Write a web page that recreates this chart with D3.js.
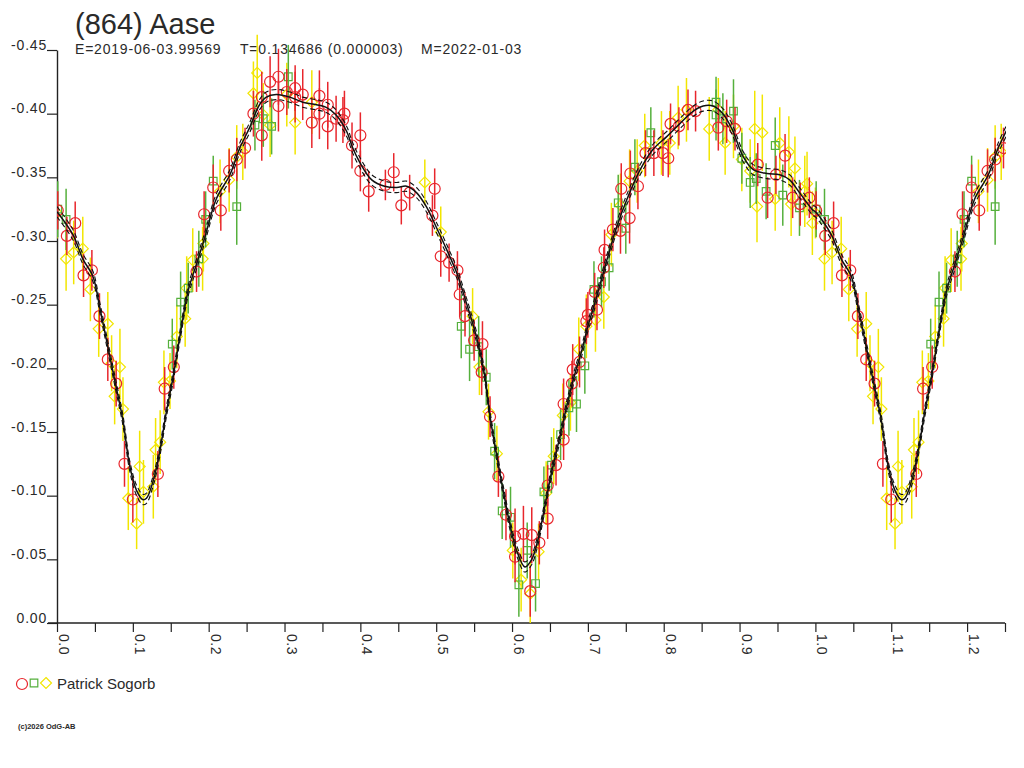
<!DOCTYPE html>
<html>
<head>
<meta charset="utf-8">
<script src="https://cdn.jsdelivr.net/npm/d3@7"></script>
<style>
  body { margin: 0; background: #fff; }
  svg { display: block; }
  text { font-family: "Liberation Sans", Arial, sans-serif; fill: #2a2a2a; }
</style>
</head>
<body>
<div id="chart"></div>
<script>
// Lightcurve of (864) Aase, folded on the period
const title = '(864) Aase';
const subtitle = ['E=2019-06-03.99569', 'T=0.134686 (0.000003)', 'M=2022-01-03'];
const observer = 'Patrick Sogorb';
const copyright = '(c)2026 OdG-AB';

// [phase, relative mag, error]
const redPts = [
  [0.001,-0.324,0.015],[0.013,-0.304,0.015],[0.024,-0.314,0.017],[0.035,-0.273,0.017],
  [0.046,-0.277,0.016],[0.056,-0.241,0.018],[0.067,-0.207,0.017],[0.078,-0.188,0.018],
  [0.089,-0.125,0.018],[0.100,-0.097,0.018],[0.133,-0.117,0.018],[0.142,-0.184,0.017],
  [0.154,-0.201,0.017],[0.184,-0.276,0.016],[0.194,-0.321,0.018],[0.206,-0.342,0.018],
  [0.216,-0.324,0.016],[0.227,-0.355,0.017],[0.237,-0.364,0.017],[0.248,-0.373,0.016],
  [0.259,-0.400,0.018],[0.270,-0.413,0.020],[0.270,-0.383,0.020],[0.281,-0.425,0.020],
  [0.292,-0.429,0.022],[0.292,-0.406,0.020],[0.303,-0.417,0.018],[0.314,-0.420,0.018],
  [0.314,-0.413,0.020],[0.324,-0.415,0.020],[0.336,-0.393,0.020],[0.346,-0.414,0.020],
  [0.346,-0.400,0.020],[0.357,-0.407,0.018],[0.357,-0.390,0.018],[0.368,-0.396,0.018],
  [0.377,-0.395,0.018],[0.379,-0.400,0.018],[0.389,-0.375,0.018],[0.400,-0.383,0.018],
  [0.400,-0.355,0.016],[0.411,-0.339,0.016],[0.433,-0.344,0.012],[0.444,-0.354,0.015],
  [0.454,-0.328,0.015],[0.465,-0.338,0.014],[0.495,-0.320,0.016],[0.498,-0.341,0.016],
  [0.506,-0.288,0.016],[0.517,-0.283,0.015],[0.528,-0.277,0.015],[0.531,-0.258,0.017],
  [0.538,-0.241,0.016],[0.550,-0.222,0.016],[0.561,-0.219,0.018],[0.560,-0.197,0.018],
  [0.571,-0.162,0.016],[0.582,-0.115,0.016],[0.592,-0.085,0.020],[0.604,-0.068,0.022],
  [0.604,-0.052,0.020],[0.615,-0.070,0.022],[0.626,-0.069,0.022],[0.624,-0.025,0.020],
  [0.636,-0.063,0.017],[0.647,-0.082,0.016],[0.647,-0.108,0.016],[0.658,-0.124,0.016],
  [0.668,-0.144,0.016],[0.668,-0.172,0.020],[0.679,-0.188,0.018],[0.680,-0.199,0.020],
  [0.689,-0.205,0.020],[0.698,-0.237,0.018],[0.700,-0.242,0.018],[0.709,-0.260,0.015],
  [0.712,-0.246,0.016],[0.721,-0.279,0.016],[0.722,-0.293,0.016],[0.733,-0.309,0.017],
  [0.743,-0.308,0.018],[0.744,-0.341,0.020],[0.755,-0.318,0.020],[0.756,-0.353,0.018],
  [0.766,-0.343,0.018],[0.776,-0.369,0.018],[0.787,-0.369,0.018],[0.799,-0.369,0.018],
  [0.806,-0.365,0.015],[0.809,-0.392,0.016],[0.820,-0.390,0.015],[0.832,-0.403,0.016],
  [0.842,-0.402,0.016],[0.872,-0.389,0.018],[0.883,-0.394,0.017],[0.894,-0.388,0.017],
  [0.924,-0.360,0.017],[0.937,-0.334,0.016],[0.948,-0.352,0.015],[0.960,-0.367,0.017],
  [0.970,-0.334,0.016],[0.980,-0.329,0.017],[0.992,-0.334,0.016]
];

const greenPts = [
  [0.001,-0.325,0.022],[0.012,-0.317,0.024],[0.152,-0.219,0.020],[0.163,-0.252,0.024],
  [0.173,-0.263,0.020],[0.187,-0.286,0.022],[0.196,-0.317,0.022],[0.206,-0.347,0.020],
  [0.237,-0.327,0.030],[0.261,-0.391,0.020],[0.272,-0.396,0.022],[0.283,-0.390,0.022],
  [0.305,-0.429,0.025],[0.533,-0.233,0.025],[0.544,-0.215,0.025],[0.556,-0.217,0.024],
  [0.566,-0.193,0.022],[0.577,-0.135,0.022],[0.587,-0.088,0.022],[0.598,-0.083,0.024],
  [0.609,-0.030,0.025],[0.620,-0.057,0.022],[0.631,-0.031,0.022],[0.642,-0.103,0.020],
  [0.652,-0.124,0.022],[0.664,-0.148,0.020],[0.675,-0.169,0.022],[0.685,-0.172,0.022],
  [0.696,-0.202,0.022],[0.708,-0.262,0.022],[0.718,-0.268,0.020],[0.728,-0.279,0.018],
  [0.740,-0.330,0.022],[0.750,-0.310,0.020],[0.762,-0.358,0.022],[0.783,-0.385,0.020],
  [0.869,-0.409,0.020],[0.869,-0.399,0.020],[0.878,-0.396,0.020],[0.892,-0.402,0.025],
  [0.903,-0.365,0.020],[0.914,-0.346,0.020],[0.922,-0.349,0.020],[0.935,-0.339,0.022],
  [0.947,-0.375,0.022],[0.957,-0.336,0.024],[0.979,-0.326,0.022]
];

const yellowPts = [
  [0.000,-0.322,0.020],[0.012,-0.286,0.025],[0.022,-0.291,0.025],[0.034,-0.294,0.025],
  [0.044,-0.262,0.025],[0.055,-0.231,0.022],[0.067,-0.235,0.025],[0.072,-0.204,0.022],
  [0.076,-0.178,0.022],[0.083,-0.201,0.030],[0.087,-0.168,0.025],[0.094,-0.098,0.025],
  [0.105,-0.078,0.020],[0.109,-0.123,0.028],[0.114,-0.103,0.025],[0.127,-0.107,0.025],
  [0.130,-0.136,0.025],[0.136,-0.142,0.025],[0.141,-0.189,0.025],[0.149,-0.190,0.022],
  [0.158,-0.225,0.025],[0.169,-0.239,0.022],[0.171,-0.263,0.025],[0.179,-0.285,0.025],
  [0.192,-0.286,0.025],[0.193,-0.298,0.022],[0.215,-0.339,0.025],[0.227,-0.348,0.025],
  [0.237,-0.366,0.025],[0.245,-0.370,0.022],[0.259,-0.416,0.025],[0.264,-0.432,0.030],
  [0.272,-0.399,0.025],[0.281,-0.391,0.025],[0.303,-0.415,0.025],[0.314,-0.393,0.025],
  [0.336,-0.409,0.025],[0.485,-0.346,0.018],[0.506,-0.307,0.020],[0.548,-0.241,0.022],
  [0.557,-0.201,0.022],[0.569,-0.166,0.022],[0.580,-0.133,0.022],[0.601,-0.057,0.022],
  [0.612,-0.034,0.025],[0.624,-0.023,0.025],[0.635,-0.056,0.022],[0.645,-0.102,0.025],
  [0.655,-0.131,0.022],[0.667,-0.163,0.025],[0.677,-0.173,0.022],[0.688,-0.215,0.025],
  [0.698,-0.233,0.025],[0.710,-0.238,0.025],[0.721,-0.256,0.025],[0.731,-0.305,0.025],
  [0.743,-0.328,0.025],[0.755,-0.347,0.025],[0.765,-0.355,0.025],[0.775,-0.375,0.025],
  [0.797,-0.377,0.025],[0.808,-0.377,0.025],[0.819,-0.397,0.025],[0.830,-0.403,0.025],
  [0.860,-0.388,0.025],[0.872,-0.403,0.025],[0.881,-0.377,0.025],[0.892,-0.390,0.025],
  [0.903,-0.364,0.025],[0.914,-0.355,0.025],[0.920,-0.388,0.030],[0.923,-0.327,0.028],
  [0.930,-0.385,0.030],[0.947,-0.333,0.025],[0.953,-0.377,0.028],[0.965,-0.370,0.028],
  [0.968,-0.329,0.025],[0.973,-0.357,0.025],[0.986,-0.339,0.028],[0.989,-0.345,0.025],
  [0.996,-0.314,0.025]
];

// Fourier fit as drawn, read at these phases
const curvePhase = [0.000,0.021,0.034,0.0475,0.056,0.065,0.076,0.087,0.096,0.105,0.113,0.118,
  0.127,0.135,0.144,0.153,0.162,0.173,0.184,0.195,0.210,0.228,0.241,0.254,0.267,0.276,0.289,
  0.307,0.324,0.342,0.355,0.368,0.382,0.390,0.399,0.415,0.432,0.448,0.461,0.474,0.487,0.500,
  0.514,0.527,0.540,0.553,0.564,0.571,0.580,0.588,0.597,0.606,0.617,0.626,0.634,0.643,0.652,
  0.663,0.674,0.683,0.692,0.700,0.711,0.725,0.738,0.751,0.769,0.786,0.804,0.821,0.839,0.852,
  0.865,0.878,0.890,0.905,0.918,0.936,0.953,0.966,0.979,0.997];
const curveMag = [-0.323,-0.305,-0.286,-0.272,-0.249,-0.223,-0.191,-0.159,-0.123,-0.104,-0.097,-0.098,
  -0.112,-0.133,-0.165,-0.193,-0.225,-0.261,-0.282,-0.303,-0.333,-0.352,-0.373,-0.389,-0.407,-0.413,-0.415,
  -0.413,-0.409,-0.407,-0.405,-0.399,-0.386,-0.373,-0.362,-0.348,-0.343,-0.342,-0.343,-0.338,-0.327,-0.311,
  -0.293,-0.275,-0.251,-0.225,-0.194,-0.162,-0.131,-0.105,-0.078,-0.057,-0.044,-0.050,-0.065,-0.091,-0.118,
  -0.146,-0.175,-0.196,-0.214,-0.233,-0.255,-0.285,-0.311,-0.332,-0.356,-0.372,-0.382,-0.392,-0.402,-0.406,
  -0.406,-0.400,-0.388,-0.366,-0.356,-0.353,-0.352,-0.348,-0.338,-0.324];
const envelope = 0.004;   // half-width of the dashed band

const yTickVals = [0, -0.05, -0.10, -0.15, -0.20, -0.25, -0.30, -0.35, -0.40, -0.45];
const xTickLabels = ['0.0','0.1','0.2','0.3','0.4','0.5','0.6','0.7','0.8','0.9','1.0','1.1','1.2'];

const colors = { red: '#e8262c', green: '#55b03c', yellow: '#f2e600' };

const W = 1024, H = 768;
const svg = d3.select('#chart').append('svg').attr('width', W).attr('height', H);
svg.append('rect').attr('width', W).attr('height', H).attr('fill', '#fff');

const x = d3.scaleLinear().domain([0, 1.25]).range([57, 1005]);
const y = d3.scaleLinear().domain([0, -0.45]).range([623, 50]);

// phases below 0.25 are repeated past 1.0
function fold(pts) {
  return pts.concat(pts.filter(d => d[0] <= 0.25).map(d => [d[0] + 1, d[1], d[2]]));
}

// title block
svg.append('text').attr('x', 75).attr('y', 34).attr('font-size', 29).text(title);
const subX = [75, 240, 421];
subtitle.forEach((s, i) => {
  svg.append('text').attr('x', subX[i]).attr('y', 54).attr('font-size', 14)
    .attr('letter-spacing', 0.8).text(s);
});

// y axis
const yAxis = svg.append('g').attr('transform', `translate(${x(0)},0)`)
  .call(d3.axisLeft(y).tickValues(yTickVals).tickSize(10).tickSizeOuter(0)
    .tickFormat(d => d.toFixed(2)));
yAxis.select('.domain').attr('stroke', '#222').attr('stroke-width', 1.4);
yAxis.selectAll('.tick line').attr('stroke', '#222').attr('stroke-width', 1.2);
yAxis.selectAll('.tick text')
  .attr('x', -10).attr('dy', -1)
  .attr('font-size', 14).attr('fill', '#2a2a2a').attr('letter-spacing', 0.8)
  .style('font-family', '"Liberation Sans", Arial, sans-serif');

// x axis
const xMinor = d3.range(0, 1.2501, 0.05);
const xAxis = svg.append('g').attr('transform', `translate(0,${y(0)})`)
  .call(d3.axisBottom(x).tickValues(xMinor).tickSize(9).tickSizeOuter(0).tickFormat(''));
xAxis.select('.domain').remove();
xAxis.selectAll('.tick line').attr('stroke', '#222').attr('stroke-width', 1.2);
svg.append('line')
  .attr('x1', x(0) - 9).attr('x2', x(1.25))
  .attr('y1', y(0)).attr('y2', y(0))
  .attr('stroke', '#222').attr('stroke-width', 1.4);
svg.append('g').selectAll('text').data(xTickLabels).join('text')
  .attr('transform', d => `translate(${x(+d) + 2},${y(0) + 11}) rotate(90)`)
  .attr('font-size', 14).attr('letter-spacing', 0.5)
  .text(d => d);

// clip to plot area
svg.append('clipPath').attr('id', 'plot')
  .append('rect').attr('x', x(0)).attr('y', y(-0.45) - 20)
  .attr('width', x(1.25) - x(0) + 1).attr('height', y(0) - y(-0.45) + 20);

const plot = svg.append('g').attr('clip-path', 'url(#plot)');

function drawSeries(pts, color, shape) {
  const data = fold(pts);
  const g = plot.append('g');
  g.selectAll('line').data(data).join('line')
    .attr('x1', d => x(d[0])).attr('x2', d => x(d[0]))
    .attr('y1', d => y(d[1] - d[2])).attr('y2', d => y(d[1] + d[2]))
    .attr('stroke', color).attr('stroke-width', 1.5);
  g.selectAll('path').data(data).join('path')
    .attr('d', d => shape(x(d[0]), y(d[1])))
    .attr('fill', 'none').attr('stroke', color).attr('stroke-width', 1.2);
}

const circle = (cx, cy) => `M${cx - 5.5},${cy}a5.5,5.5 0 1,0 11,0a5.5,5.5 0 1,0 -11,0`;
const square = (cx, cy) => `M${cx - 3.8},${cy - 3.8}h7.6v7.6h-7.6z`;
const diamond = (cx, cy) => `M${cx},${cy - 5.5}L${cx + 5.5},${cy}L${cx},${cy + 5.5}L${cx - 5.5},${cy}z`;

drawSeries(yellowPts, colors.yellow, diamond);
drawSeries(greenPts, colors.green, square);
drawSeries(redPts, colors.red, circle);

// fitted curve and dashed band
const curvePts = curvePhase.map((p, i) => [p, curveMag[i]]);
const curveAll = curvePts.concat(curvePts.filter(d => d[0] <= 0.26).map(d => [d[0] + 1, d[1]]));
const line = d3.line().x(d => x(d[0])).y(d => y(d[1])).curve(d3.curveCatmullRom);
[-envelope, envelope].forEach(off => {
  plot.append('path')
    .attr('d', line(curveAll.map(d => [d[0], d[1] + off])))
    .attr('fill', 'none').attr('stroke', '#111').attr('stroke-width', 1.1)
    .attr('stroke-dasharray', '5,3');
});
plot.append('path')
  .attr('d', line(curveAll))
  .attr('fill', 'none').attr('stroke', '#111').attr('stroke-width', 1.5);

// legend
const lg = svg.append('g');
lg.append('path').attr('d', circle(22, 684)).attr('fill', 'none').attr('stroke', colors.red).attr('stroke-width', 1.2);
lg.append('path').attr('d', square(34, 683)).attr('fill', 'none').attr('stroke', colors.green).attr('stroke-width', 1.2);
lg.append('path').attr('d', diamond(46, 683)).attr('fill', 'none').attr('stroke', colors.yellow).attr('stroke-width', 1.2);
lg.append('text').attr('x', 57).attr('y', 689).attr('font-size', 15).text(observer);

svg.append('text').attr('x', 18).attr('y', 729).attr('font-size', 7.5)
  .attr('font-weight', 'bold').text(copyright);
</script>
</body>
</html>
